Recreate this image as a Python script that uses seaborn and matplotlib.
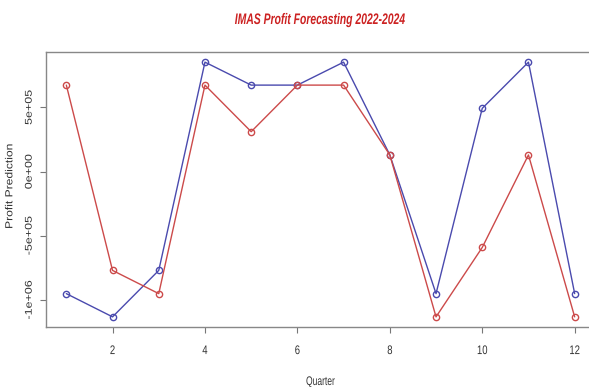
import matplotlib
matplotlib.use("Agg")
import matplotlib.pyplot as plt
import seaborn as sns
import pandas as pd
from matplotlib.patheffects import AbstractPathEffect
from matplotlib.transforms import Affine2D

quarters = list(range(1, 13))
blue_series = [-951000, -1132000, -770000, 853000, 674000, 674000, 853000, 130000, -951000, 493000, 853000, -951000]
red_series = [674000, -770000, -951000, 674000, 311000, 674000, 674000, 130000, -1132000, -591000, 130000, -1132000]
ytick_vals = [-1e6, -5e5, 0, 5e5]
ytick_labels = ["-1e+06", "-5e+05", "0e+00", "5e+05"]
xtick_vals = [2, 4, 6, 8, 10, 12]


class HSqueeze(AbstractPathEffect):
    """Squeeze rendered text horizontally around its own centre."""
    def __init__(self, sx):
        super().__init__()
        self.sx = sx

    def draw_path(self, renderer, gc, tpath, affine, rgbFace=None):
        bb = tpath.get_extents(affine)
        cx = 0.5 * (bb.x0 + bb.x1)
        aff = affine + Affine2D().translate(-cx, 0).scale(self.sx, 1).translate(cx, 0)
        renderer.draw_path(gc, tpath, aff, rgbFace)


sns.set_style("white")
plt.rcParams["font.family"] = ["Liberation Sans", "DejaVu Sans"]

df = pd.DataFrame({"Quarter": quarters * 2,
                   "Profit": blue_series + red_series,
                   "series": ["blue"] * 12 + ["red"] * 12})

W, H = 589, 387
fig = plt.figure(figsize=(W / 100, H / 100), dpi=100)
left_px, right_px, top_px, bottom_px = 46, 595, 52, 327
ax = fig.add_axes([left_px / W, 1 - bottom_px / H,
                   (right_px - left_px) / W, (bottom_px - top_px) / H])

pal = {"blue": "#4a4aae", "red": "#cc4a4a"}
sns.lineplot(data=df, x="Quarter", y="Profit", hue="series", palette=pal,
             marker="o", markersize=4.5, linewidth=1.0, legend=False, ax=ax)
for line in ax.lines:
    line.set_markeredgecolor(line.get_color())
    line.set_markerfacecolor("none")
    line.set_markeredgewidth(1.0)

ax.set_xlim(0.56, 12.44)
ax.set_ylim(-1211000, 932000)
ax.set_xticks(xtick_vals)
ax.set_xticklabels([str(v) for v in xtick_vals], fontsize=9, color="#333333")
ax.set_yticks(ytick_vals)
ax.set_yticklabels(ytick_labels, fontsize=9, color="#333333", rotation=90, va="center")
ax.tick_params(axis="both", which="both", length=4, width=0.8, color="#777777",
               direction="out", bottom=True, left=True)
ax.tick_params(axis="x", pad=9.0)
ax.tick_params(axis="y", pad=3.5)
for s in ax.spines.values():
    s.set_color("#888888")
    s.set_linewidth(1.0)

for t in ax.get_xticklabels():
    t.set_path_effects([HSqueeze(0.76)])
for t in ax.get_yticklabels():
    t.set_path_effects([HSqueeze(0.78)])

ax.set_xlabel("Quarter", fontsize=9, color="#333333")
ax.xaxis.label.set_va("center")
ax.xaxis.set_label_coords(0.5, (H - 382 - (H - bottom_px)) / (bottom_px - top_px))
ax.xaxis.label.set_path_effects([HSqueeze(0.68)])

ax.set_ylabel("Profit Prediction", fontsize=8.7, color="#333333")
ax.yaxis.label.set_va("center")
ax.yaxis.set_label_coords((10 - left_px) / (right_px - left_px),
                          (bottom_px - 186) / (bottom_px - top_px))
ax.yaxis.label.set_path_effects([HSqueeze(0.85)])

title = fig.text(320 / W, 1 - 20 / H, "IMAS Profit Forecasting 2022-2024",
                 fontsize=11, color="#cc2222", fontweight="bold", fontstyle="italic",
                 ha="center", va="center")
title.set_path_effects([HSqueeze(0.68)])

fig.savefig("out.png", dpi=100)
